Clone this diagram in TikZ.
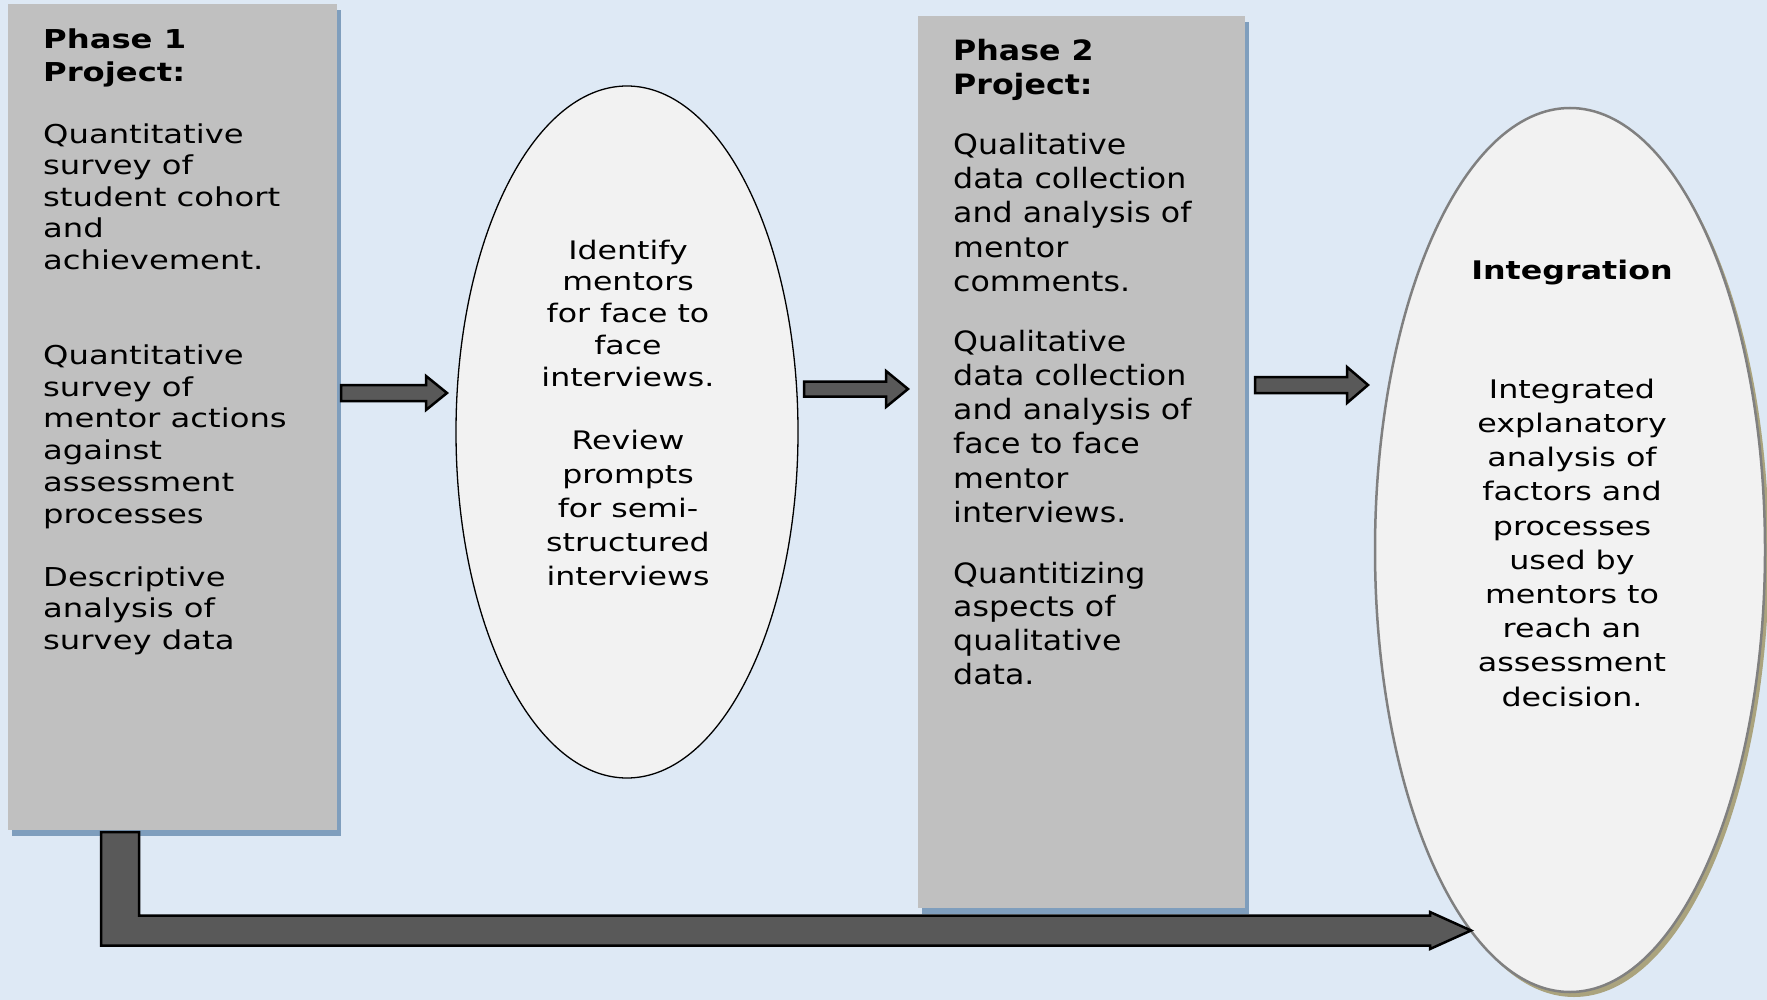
\documentclass[tikz,border=0pt]{standalone}
\usepackage{fontspec}
\setmainfont{DejaVu Sans}
\newfontfamily\fA[FakeStretch=1.24]{DejaVu Sans}
\newfontfamily\fB[FakeStretch=1.13]{DejaVu Sans}
\usetikzlibrary{shapes.geometric,shadows,calc}
\definecolor{bgblue}{RGB}{222,233,245}
\definecolor{boxgray}{RGB}{192,192,192}
\definecolor{shblue}{RGB}{127,158,189}
\definecolor{ellfill}{RGB}{242,242,242}
\definecolor{arrgray}{RGB}{89,89,89}
\definecolor{shtan}{RGB}{170,163,125}
\definecolor{ellgray}{RGB}{128,128,128}
\tikzset{
  phasebox/.style={fill=boxgray, draw=none, anchor=north west, inner sep=0pt,
    drop shadow={shadow xshift=4pt, shadow yshift=-6pt, fill=shblue, opacity=1}},
  ovalA/.style={ellipse, fill=ellfill, draw=black, line width=1.3pt, inner sep=0pt},
  ovalB/.style={ellipse, fill=ellfill, draw=ellgray, line width=2.5pt, inner sep=0pt,
    drop shadow={shadow xshift=4pt, shadow yshift=-5pt, fill=shtan, opacity=1}},
  ptxt/.style={anchor=north west, align=left, inner sep=0pt, text=black},
  ctxt/.style={anchor=north, align=center, inner sep=0pt, text=black},
  blockarrow/.style={fill=arrgray, draw=black, line width=2.5pt, line join=miter},
}
\newcommand\fatarrow[5]{%
  \draw[blockarrow] let \p1=(#1), \p2=(#2) in
    (\x1,{\y1+#3}) -- ({\x2-#5},{\y1+#3}) -- ({\x2-#5},{\y1+#4}) -- (\x2,\y2)
    -- ({\x2-#5},{\y1-#4}) -- ({\x2-#5},{\y1-#3}) -- (\x1,{\y1-#3}) -- cycle;}
\begin{document}
\begin{tikzpicture}[x=1pt,y=-1pt]
\useasboundingbox (0,0) rectangle (1767,1000);
\fill[bgblue] (0,0) rectangle (1767,1000);

% shapes
\node[phasebox, minimum width=329, minimum height=826] (box1) at (8,4) {};
\node[phasebox, minimum width=327, minimum height=892] (box2) at (918,16) {};
\node[ovalA, minimum width=342, minimum height=692] (ell1) at (627,432) {};
\node[ovalB, minimum width=390, minimum height=884] (ell2) at (1570,550) {};

% connectors
\coordinate (a1tail) at (341,393);
\coordinate (a1tip) at (447,393);
\coordinate (a2tail) at (804,389);
\coordinate (a2tip) at (908,389);
\coordinate (a3tail) at (1255,385);
\coordinate (a3tip) at (1368,385);
\fatarrow{a1tail}{a1tip}{8pt}{17pt}{21pt}
\fatarrow{a2tail}{a2tip}{7.5pt}{18pt}{22pt}
\fatarrow{a3tail}{a3tip}{8pt}{18pt}{21pt}

\coordinate (Lstart) at (120,832);
\coordinate (Ltip) at (1471,930.5);
\draw[blockarrow] let \p1=(Lstart), \p2=(Ltip) in
  ({\x1-19pt},\y1) -- ({\x1+19pt},\y1) -- ({\x1+19pt},{\y2+15pt})
  -- ({\x2-41pt},{\y2+15pt}) -- ({\x2-41pt},{\y2+18.5pt}) -- (\x2,\y2)
  -- ({\x2-41pt},{\y2-18.5pt}) -- ({\x2-41pt},{\y2-15pt})
  -- ({\x1-19pt},{\y2-15pt}) -- cycle;

% box 1 text
\node[ptxt, font=\fA\bfseries\fontsize{26}{33.4}\selectfont, yshift=23.38] (t1) at (43,48)
  {\strut Phase 1\\Project:};
\node[ptxt, font=\fA\fontsize{26}{31.5}\selectfont, yshift=22.05] (p1a) at (43,143)
  {\strut Quantitative\\survey of\\student cohort\\and\\achievement.};
\node[ptxt, font=\fA\fontsize{26}{31.8}\selectfont, yshift=22.26] (p1b) at (43,364)
  {\strut Quantitative\\survey of\\mentor actions\\against\\assessment\\processes};
\node[ptxt, font=\fA\fontsize{26}{31.5}\selectfont, yshift=22.05] (p1c) at (43,586)
  {\strut Descriptive\\analysis of\\survey data};

% ellipse 1 text
\node[ctxt, font=\fA\fontsize{25.5}{31.7}\selectfont, yshift=22.19] (e1a) at (628,259)
  {\strut Identify\\mentors\\for face to\\face\\interviews.};
\node[ctxt, font=\fA\fontsize{25.5}{34}\selectfont, yshift=23.8] (e1b) at (628,449)
  {\strut Review\\prompts\\for semi-\\structured\\interviews};

% box 2 text
\node[ptxt, font=\fB\bfseries\fontsize{28}{34}\selectfont, yshift=23.8] (t2) at (953,60)
  {\strut Phase 2\\Project:};
\node[ptxt, font=\fB\fontsize{28}{34.3}\selectfont, yshift=24.01] (p2a) at (953,154)
  {\strut Qualitative\\data collection\\and analysis of\\mentor\\comments.};
\node[ptxt, font=\fB\fontsize{28}{34.2}\selectfont, yshift=23.94] (p2b) at (953,351)
  {\strut Qualitative\\data collection\\and analysis of\\face to face\\mentor\\interviews.};
\node[ptxt, font=\fB\fontsize{28}{33.7}\selectfont, yshift=23.59] (p2c) at (953,583)
  {\strut Quantitizing\\aspects of\\qualitative\\data.};

% ellipse 2 text
\node[ctxt, font=\fA\bfseries\fontsize{25.6}{34}\selectfont, yshift=23.8] (e2t) at (1572,279)
  {\strut Integration};
\node[ctxt, font=\fA\fontsize{25.6}{34.2}\selectfont, yshift=23.94] (e2b) at (1572,398)
  {\strut Integrated\\explanatory\\analysis of\\factors and\\processes\\used by\\mentors to\\reach an\\assessment\\decision.};
\end{tikzpicture}
\end{document}
